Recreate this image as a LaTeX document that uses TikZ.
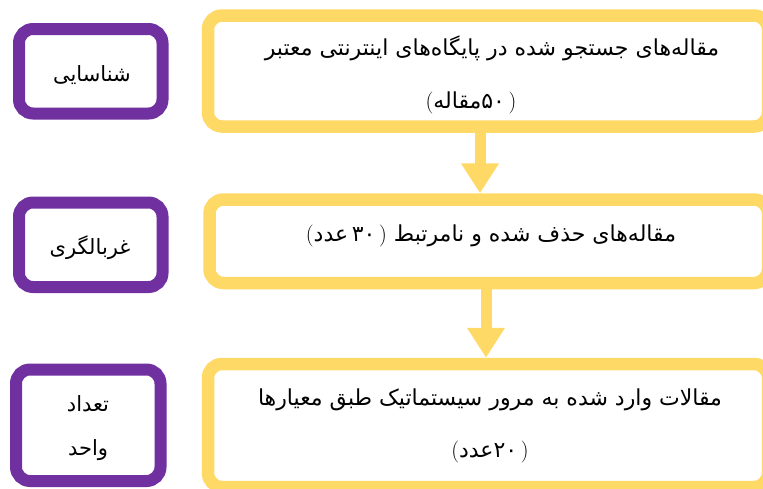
\documentclass[tikz,border=0pt]{standalone}
\usepackage{fontspec}
\usepackage{xcolor}
\usetikzlibrary{arrows.meta}
\newfontfamily\farsi[Script=Arabic]{DejaVu Sans}
\TeXXeTstate=1
\definecolor{stagegold}{HTML}{FFD966}
\definecolor{phasepurple}{HTML}{7030A0}
\newcommand{\fa}[1]{{\farsi\beginR #1\endR}}
\newcommand{\pa}[1]{{\rmfamily #1}}
\newcommand{\fw}[1]{\hbox{\farsi #1}}

\begin{document}
\begin{tikzpicture}[x=1pt,y=-1pt,
  txt/.style={font=\fontsize{22}{26}\selectfont,inner sep=0pt},
  tag/.style={font=\fontsize{21}{25}\selectfont,inner sep=0pt},
  stage/.style={draw=stagegold,line width=12.5pt,rounded corners=14pt,fill=white,inner sep=0pt},
  phase/.style={draw=phasepurple,line width=12pt,rounded corners=14pt,fill=white,inner sep=0pt},
  flow/.style={stagegold,line width=11pt,-{Triangle[length=30pt,width=36pt]}}]
\useasboundingbox (0,0) rectangle (763,488);
\clip (0,0) rectangle (763,488);

% right column: the three stages
\node[stage,minimum width=560pt,minimum height=111pt] (s1) at (488,71) {};
\node[stage,minimum width=558.5pt,minimum height=83.5pt] (s2) at (488.75,241.25) {};
\node[stage,minimum width=560pt,minimum height=123pt] (s3) at (488,425.5) {};

\node[txt] (s1a) at (492,48) {\fa{مقاله‌های جستجو شده در پایگاه‌های اینترنتی معتبر}};
\node[txt] (s1b) at (471,103) {\fa{\pa{)}\,\fw{۵۰}\fw{مقاله}\pa{(}}};
\node[txt] (s2a) at (491,236) {\fa{مقاله‌های حذف شده و نامرتبط \pa{)}\,\fw{۳۰}\,\fw{عدد}\pa{(}}};
\node[txt] (s3a) at (490,400) {\fa{مقالات وارد شده به مرور سیستماتیک طبق معیارها}};
\node[txt] (s3b) at (490,452) {\fa{\pa{)}\,\fw{۲۰}\fw{عدد}\pa{(}}};

% left column: the phases
\node[phase,minimum width=143.5pt,minimum height=84.5pt] (p1) at (90.75,71.25) {};
\node[phase,minimum width=143.5pt,minimum height=84.5pt] (p2) at (90.75,244.75) {};
\node[phase,minimum width=144.5pt,minimum height=111.5pt] (p3) at (88.25,425.25) {};

\node[tag] (p1t) at (92,75) {\fa{شناسایی}};
\node[tag] (p2t) at (90,248) {\fa{غربالگری}};
\node[tag] (p3a) at (88,404) {\fa{تعداد}};
\node[tag] (p3b) at (88,450) {\fa{واحد}};

% arrows between stages
\coordinate (a1) at (480,0);
\coordinate (a2) at (486,0);
\draw[flow] (s1.south -| a1) -- (s2.north -| a1);
\draw[flow] (s2.south -| a2) -- (s3.north -| a2);
\end{tikzpicture}
\end{document}
